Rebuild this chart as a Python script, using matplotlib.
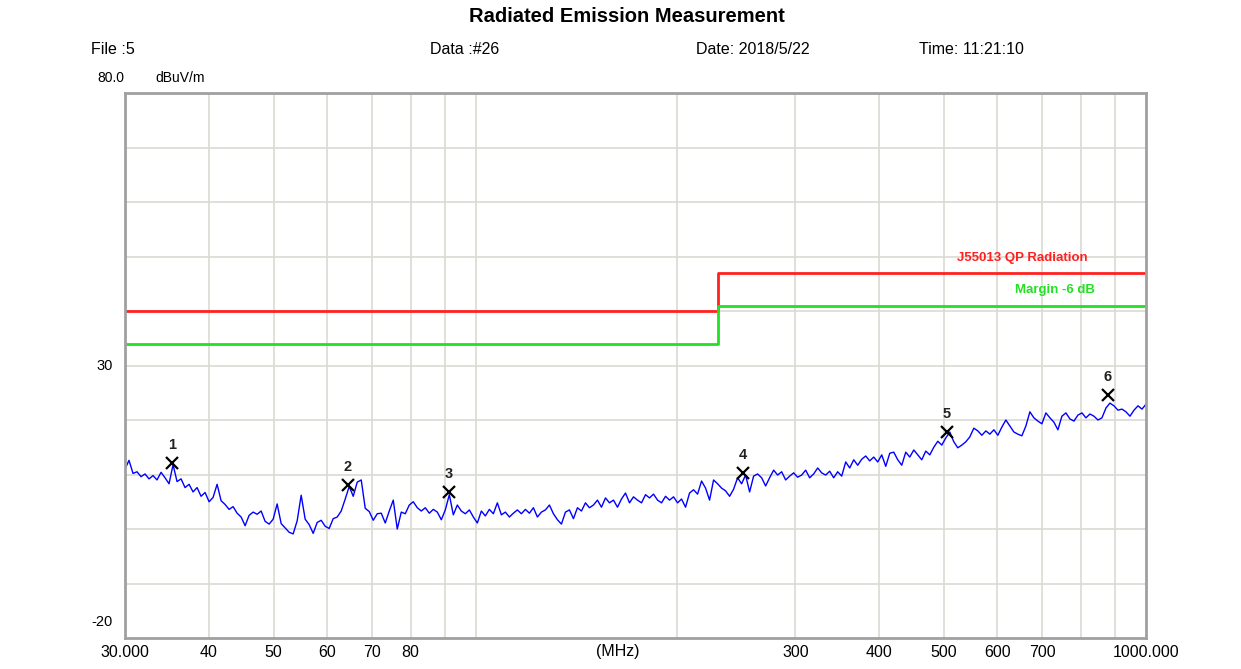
import numpy as np
import matplotlib.pyplot as plt
from matplotlib.ticker import FixedLocator, NullLocator

plt.rcParams['font.family'] = ['Liberation Sans', 'DejaVu Sans']

# Measured trace (dBuV/m), sweep 30 - 1000 MHz on a log grid
level = [
    11.0, 12.6, 10.2, 10.5, 9.6, 10.1, 9.2, 9.8, 9.0, 10.4, 9.4, 8.3, 11.8, 8.7, 9.2, 7.6,
    8.2, 6.8, 7.6, 6.0, 6.7, 5.0, 5.8, 8.2, 5.2, 4.5, 3.6, 4.1, 2.9, 2.2, 0.6, 2.5,
    3.1, 2.7, 3.3, 1.4, 0.9, 1.8, 4.6, 1.0, 0.2, -0.6, -0.9, 1.5, 6.2, 1.8, 0.8, -0.8,
    1.2, 1.6, 0.5, 0.1, 1.9, 2.2, 3.3, 5.5, 7.8, 6.0, 8.6, 9.0, 3.8, 3.2, 1.6, 2.8,
    2.9, 1.1, 3.3, 5.3, 0.0, 3.1, 2.8, 4.4, 5.0, 3.9, 3.3, 3.9, 2.9, 3.6, 3.1, 1.7,
    3.5, 6.3, 2.6, 4.4, 3.3, 2.8, 3.5, 2.2, 1.1, 3.3, 2.4, 3.6, 2.8, 4.8, 2.6, 3.1,
    2.2, 2.9, 3.5, 2.8, 3.6, 2.9, 3.9, 2.2, 3.1, 3.5, 4.4, 2.8, 1.7, 0.9, 3.1, 3.5,
    1.9, 3.9, 3.3, 4.8, 3.9, 4.4, 5.3, 4.0, 5.7, 4.8, 5.3, 4.0, 5.5, 6.6, 4.8, 5.9,
    5.3, 4.8, 6.3, 5.7, 6.4, 5.3, 4.8, 6.0, 5.3, 5.9, 4.8, 5.5, 4.0, 6.6, 7.2, 6.4,
    8.8, 7.5, 5.3, 9.0, 8.3, 7.5, 7.0, 6.0, 7.3, 9.4, 8.3, 9.9, 6.8, 9.7, 10.1, 9.4,
    7.9, 9.4, 10.8, 9.9, 10.5, 9.0, 9.7, 10.3, 9.5, 9.9, 10.8, 9.4, 10.1, 11.2, 10.3, 9.9,
    10.6, 9.4, 10.5, 9.7, 12.3, 11.2, 12.7, 11.7, 12.8, 13.4, 12.5, 13.2, 12.3, 13.6, 11.5, 13.9,
    14.1, 12.7, 11.7, 14.1, 13.2, 14.5, 13.6, 12.7, 14.3, 13.6, 15.0, 16.1, 15.4, 16.7, 17.8, 16.0,
    14.9, 15.4, 16.0, 16.9, 18.5, 18.0, 17.2, 18.0, 17.4, 18.2, 17.2, 18.7, 20.0, 18.9, 17.8, 17.4,
    17.1, 18.9, 21.5, 20.4, 19.8, 19.3, 21.3, 20.4, 19.6, 18.2, 20.7, 21.3, 20.2, 19.8, 20.9, 21.3,
    20.4, 21.1, 20.7, 20.0, 20.4, 22.2, 23.1, 22.6, 21.8, 22.0, 21.5, 20.7, 21.8, 22.6, 22.0, 22.9,
]
freq = np.geomspace(30, 1000, len(level))

# Limit line and margin line (step at 230 MHz)
limit_freq = [30, 230, 230, 1000]
limit_level = [40, 40, 47, 47]
margin_level = [34, 34, 41, 41]

# Markers
marker_freq = [35.3, 64.5, 91.3, 250.6, 504.9, 877.8]
marker_level = [12.1, 8.1, 6.8, 10.3, 17.8, 24.6]
marker_names = ['1', '2', '3', '4', '5', '6']

xtick_vals = [30, 40, 50, 60, 70, 80, 300, 400, 500, 600, 700, 1000]
xtick_text = ['30.000', '40', '50', '60', '70', '80', '300', '400', '500', '600', '700', '1000.000']
xgrid = [40, 50, 60, 70, 80, 90, 100, 200, 300, 400, 500, 600, 700, 800, 900]

fig = plt.figure(figsize=(12.41, 6.69), dpi=100)
ax = fig.add_axes([125 / 1241, 1 - 638 / 669, 1021 / 1241, 545 / 669])

ax.set_xscale('log')
ax.set_xlim(30, 1000)
ax.set_ylim(-20, 80)

for f in xgrid:
    ax.axvline(f, color='#dcd9d2', lw=1.2, zorder=0)
for v in range(-10, 80, 10):
    ax.axhline(v, color='#dcd9d2', lw=1.2, zorder=0)

ax.plot(limit_freq, limit_level, color='#ff2020', lw=2)
ax.plot(limit_freq, margin_level, color='#22e022', lw=2)
ax.plot(freq, level, color='#0000ff', lw=1.0)

ax.plot(marker_freq, marker_level, 'x', color='black', ms=8, mew=1.6)
for f, v, n in zip(marker_freq, marker_level, marker_names):
    ax.annotate(n, (f, v), xytext=(0, 8), textcoords='offset points',
                ha='center', va='bottom', fontsize=10.5, fontweight='bold', color='#222222')

ax.text(0.943, 0.698, 'J55013 QP Radiation', transform=ax.transAxes, ha='right',
        va='center', fontsize=9.5, fontweight='bold', color='#ff2020')
ax.text(0.950, 0.638, 'Margin -6 dB', transform=ax.transAxes, ha='right',
        va='center', fontsize=9.5, fontweight='bold', color='#22e022')

ax.xaxis.set_major_locator(FixedLocator(xtick_vals))
ax.xaxis.set_minor_locator(NullLocator())
ax.set_xticklabels(xtick_text)
ax.tick_params(axis='x', length=0, pad=5, labelsize=11.5)
ax.set_yticks([])
ax.text(0.483, -0.011, '(MHz)', transform=ax.transAxes, ha='center', va='top', fontsize=11.5)

ax.text(-0.012, 0.5, '30', transform=ax.transAxes, ha='right', va='center', fontsize=10.5)
ax.text(-0.012, 0.03, '-20', transform=ax.transAxes, ha='right', va='center', fontsize=10.5)

for s in ax.spines.values():
    s.set_color('#a0a0a0')
    s.set_linewidth(2)

fig.text(627 / 1241, 1 - 17 / 669, 'Radiated Emission Measurement', ha='center', va='center',
         fontsize=14.5, fontweight='bold')
fig.text(91 / 1241, 1 - 50 / 669, 'File :5', ha='left', va='center', fontsize=11.5)
fig.text(430 / 1241, 1 - 50 / 669, 'Data :#26', ha='left', va='center', fontsize=11.5)
fig.text(696 / 1241, 1 - 50 / 669, 'Date: 2018/5/22', ha='left', va='center', fontsize=11.5)
fig.text(919 / 1241, 1 - 50 / 669, 'Time: 11:21:10', ha='left', va='center', fontsize=11.5)
fig.text(97 / 1241, 1 - 78 / 669, '80.0', ha='left', va='center', fontsize=10)
fig.text(155 / 1241, 1 - 78 / 669, 'dBuV/m', ha='left', va='center', fontsize=10)

fig.savefig('out.png', dpi=100)
